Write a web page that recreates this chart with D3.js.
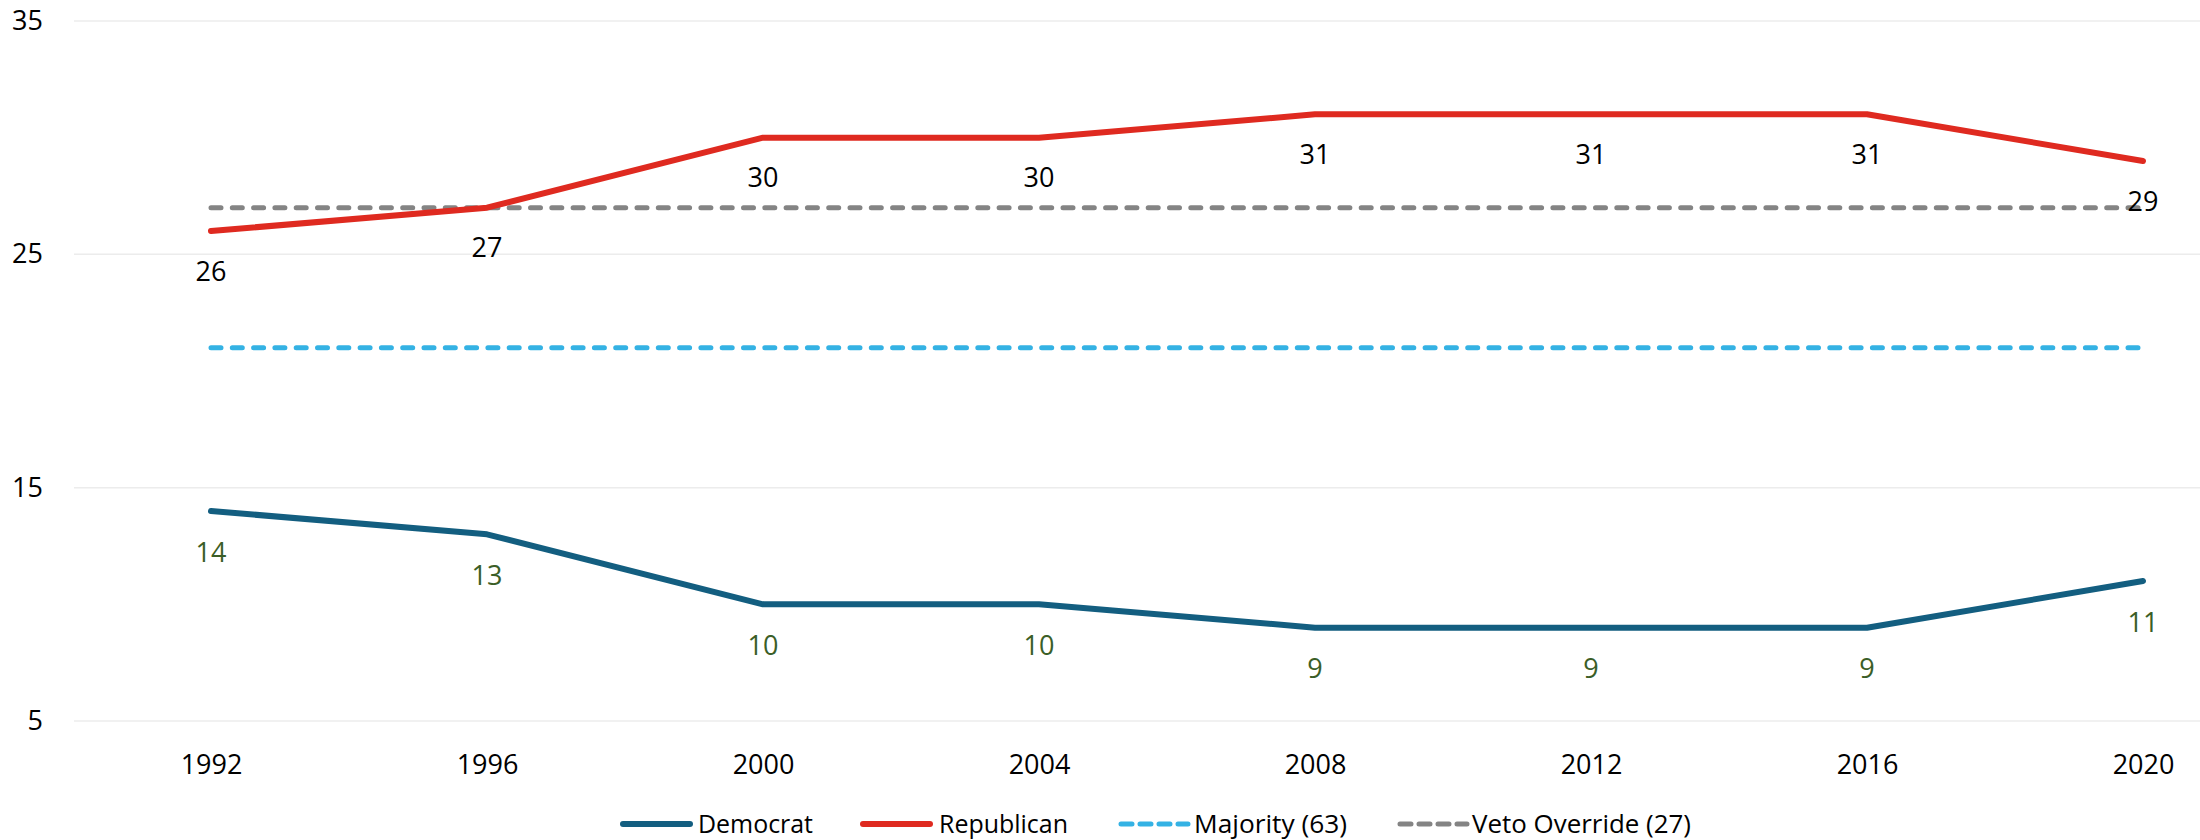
<!DOCTYPE html>
<html><head><meta charset="utf-8">
<script src="https://cdn.jsdelivr.net/npm/d3@7"></script>
<style>body{margin:0;background:#fff}svg{display:block}text{font-family:"Open Sans",sans-serif}</style>
</head><body>
<svg id="c" width="2200" height="840"></svg>
<script>
const years = [1992, 1996, 2000, 2004, 2008, 2012, 2016, 2020];
const democrat = [14, 13, 10, 10, 9, 9, 9, 11];
const republican = [26, 27, 30, 30, 31, 31, 31, 29];
const majority = 21;
const vetoOverride = 27;
const yTicks = [5, 15, 25, 35];
const legendLabels = ["Democrat", "Republican", "Majority (63)", "Veto Override (27)"];

const svg = d3.select("#c");
const x = d3.scalePoint().domain(years).range([211, 2143]);
const y = d3.scaleLinear().domain([5, 35]).range([721, 21]);

// grid
svg.append("g").selectAll("line").data(yTicks).join("line")
  .attr("x1", 74).attr("x2", 2200)
  .attr("y1", d => y(d)).attr("y2", d => y(d))
  .attr("stroke", "#ececec").attr("stroke-width", 1.5);

// y axis labels
const ya = svg.append("g").attr("transform", "translate(43,0)")
  .call(d3.axisLeft(y).tickValues(yTicks).tickSize(0).tickPadding(0));
ya.select(".domain").remove();
ya.selectAll("text").attr("font-size", 27).attr("fill", "#000").attr("font-family", "Open Sans");

// x axis labels
const xa = svg.append("g").attr("transform", "translate(0,755)")
  .call(d3.axisBottom(x).tickSize(0).tickPadding(0));
xa.select(".domain").remove();
xa.selectAll("text").attr("font-size", 27).attr("fill", "#000").attr("font-family", "Open Sans");

const line = d3.line().x((d, i) => x(years[i])).y(d => y(d));

// reference lines
function refLine(v, color) {
  svg.append("path").datum(years.map(() => v))
    .attr("d", line).attr("fill", "none").attr("stroke", color)
    .attr("stroke-width", 5).attr("stroke-linecap", "round")
    .attr("stroke-dasharray", "10,11.3");
}
refLine(majority, "#34b2e4");
refLine(vetoOverride, "#848484");

const demColor = "#135e80", repColor = "#df2a20";
svg.append("path").datum(republican).attr("d", line).attr("fill", "none")
  .attr("stroke", repColor).attr("stroke-width", 6).attr("stroke-linecap", "round").attr("stroke-linejoin", "round");
svg.append("path").datum(democrat).attr("d", line).attr("fill", "none")
  .attr("stroke", demColor).attr("stroke-width", 6).attr("stroke-linecap", "round").attr("stroke-linejoin", "round");

// data labels
svg.append("g").selectAll("text").data(republican).join("text")
  .attr("x", (d, i) => x(years[i])).attr("y", d => y(d) + 39)
  .attr("text-anchor", "middle").attr("dominant-baseline", "central")
  .attr("font-size", 27).attr("fill", "#000").text(d => d);
svg.append("g").selectAll("text").data(democrat).join("text")
  .attr("x", (d, i) => x(years[i])).attr("y", d => y(d) + 40)
  .attr("text-anchor", "middle").attr("dominant-baseline", "central")
  .attr("font-size", 27).attr("fill", "#3b5e27").text(d => d);

// legend
const legendItems = [
  {label: legendLabels[0], color: demColor, dash: null, x0: 620, tx: 698, w: 115},
  {label: legendLabels[1], color: repColor, dash: null, x0: 860, tx: 939, w: 129},
  {label: legendLabels[2], color: "#34b2e4", dash: "11,8", x0: 1118, tx: 1194, w: 153},
  {label: legendLabels[3], color: "#848484", dash: "11,8", x0: 1397, tx: 1472, w: 219}
];
const lg = svg.append("g");
legendItems.forEach(it => {
  lg.append("line").attr("x1", it.x0 + 3).attr("x2", it.x0 + 70)
    .attr("y1", 824).attr("y2", 824).attr("stroke", it.color)
    .attr("stroke-width", it.dash ? 5 : 6).attr("stroke-linecap", "round")
    .attr("stroke-dasharray", it.dash);
  lg.append("text").attr("x", it.tx).attr("y", 823)
    .attr("dominant-baseline", "central").attr("font-size", 25).attr("fill", "#000")
    .attr("textLength", it.w).attr("lengthAdjust", "spacingAndGlyphs")
    .text(it.label);
});
</script>
</body></html>
